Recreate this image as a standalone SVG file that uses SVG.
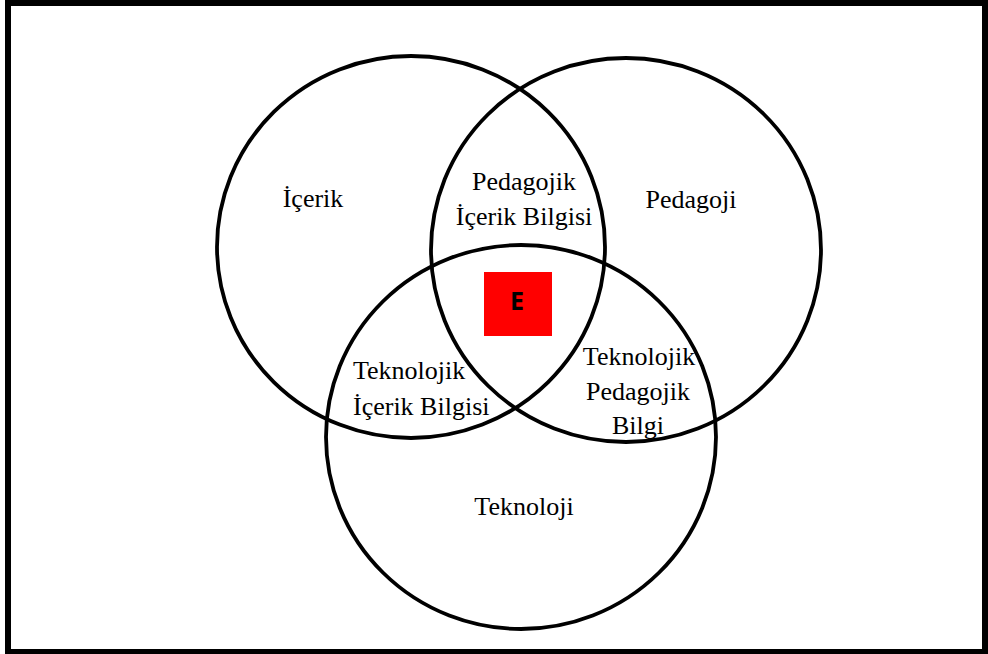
<svg xmlns="http://www.w3.org/2000/svg" width="988" height="654" viewBox="0 0 988 654">
<style>
.c{fill:none;stroke:#000;stroke-width:3.8}
.t{font-family:"Liberation Serif","Times New Roman",serif;font-size:26px;fill:#000}
.m{text-anchor:middle}
.e{font-family:"Open Sans","Noto Sans",sans-serif;font-weight:bold;font-size:25px;fill:#000;text-anchor:middle}
</style>
<rect x="0" y="0" width="988" height="654" fill="#fff"/>
<rect x="8" y="3" width="977" height="649" fill="none" stroke="#000" stroke-width="6"/>
<g id="circles">
<ellipse id="icerik-circle" class="c" cx="411" cy="247" rx="194" ry="191"/>
<ellipse id="pedagoji-circle" class="c" cx="626" cy="250" rx="195" ry="192"/>
<ellipse id="teknoloji-circle" class="c" cx="521" cy="437" rx="195" ry="192"/>
</g>
<g id="icerik"><text class="t m" x="313" y="207">İçerik</text></g>
<g id="pedagoji"><text class="t m" x="691" y="208">Pedagoji</text></g>
<g id="pib"><text class="t m" x="524" y="190">Pedagojik</text><text class="t m" x="524" y="225">İçerik Bilgisi</text></g>
<g id="tib"><text class="t" x="353" y="379">Teknolojik</text><text class="t" x="353" y="415">İçerik Bilgisi</text></g>
<g id="tpb"><text class="t m" x="639" y="365">Teknolojik</text><text class="t m" x="638" y="400">Pedagojik</text><text class="t m" x="638" y="434">Bilgi</text></g>
<g id="teknoloji"><text class="t m" x="524" y="515">Teknoloji</text></g>
<g id="e"><rect x="484" y="272" width="68" height="64" fill="#ff0000"/><text class="e" x="517" y="310">E</text></g>
</svg>
